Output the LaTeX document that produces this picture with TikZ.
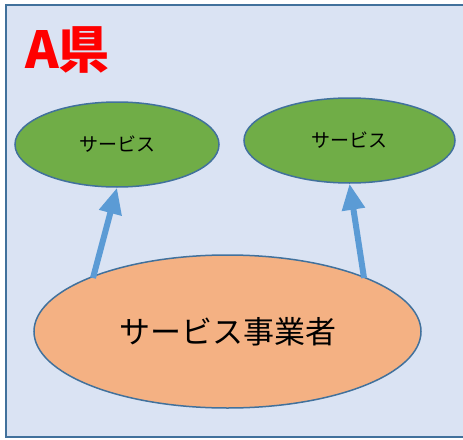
\documentclass[tikz,border=0pt]{standalone}
\usepackage{fontspec}
\setmainfont{Noto Sans CJK JP}
\usetikzlibrary{shapes.geometric,arrows.meta}
\definecolor{bgblue}{HTML}{DAE3F3}
\definecolor{edgeblue}{HTML}{41719C}
\definecolor{svcgreen}{HTML}{70AD47}
\definecolor{bizorange}{HTML}{F4B183}
\definecolor{arrowblue}{HTML}{5B9BD5}
\tikzset{
  svc/.style={ellipse, draw=edgeblue, line width=1.5pt, fill=svcgreen, inner sep=0pt, font=\fontsize{19}{22}\selectfont},
  biz/.style={ellipse, draw=edgeblue, line width=1.5pt, fill=bizorange, inner sep=0pt, font=\fontsize{31}{36}\selectfont},
  link/.style={draw=arrowblue, line width=6pt, -{Triangle[length=26pt,width=22pt]}},
}
\begin{document}
\begin{tikzpicture}[x=1pt,y=-1pt]
\useasboundingbox (0,0) rectangle (463,439);
\fill[white] (0,0) rectangle (463,439);
\fill[bgblue] (6,5) rectangle (470,437);
\draw[edgeblue, line width=1.5pt] (470,5) -- (6,5) -- (6,437) -- (470,437);
\node[anchor=base west, text=red, inner sep=0pt, font=\bfseries\fontsize{51}{56}\selectfont] (title) at (25,68) {A県};
\node[svc, minimum width=204pt, minimum height=85pt] (s1) at (117,144.5) {サービス};
\node[svc, minimum width=211pt, minimum height=85pt] (s2) at (349.5,140.5) {サービス};
\node[biz, minimum width=387pt, minimum height=153pt] (b) at (227.5,331.5) {サービス事業者};
\coordinate (a1) at (93,278);
\coordinate (a2) at (364,278);
\draw[link] (a1) -- (s1.south);
\draw[link] (a2) -- (s2.south);
\end{tikzpicture}
\end{document}
